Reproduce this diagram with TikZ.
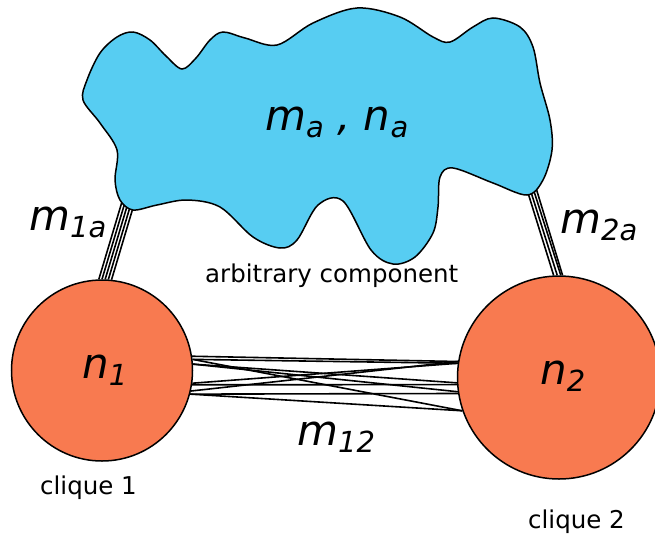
\documentclass[tikz,border=0pt]{standalone}
\usepackage{fontspec}
\setmainfont{DejaVu Sans}
\definecolor{blobblue}{RGB}{87,205,242}
\definecolor{cliquefill}{RGB}{248,122,80}
% lowered subscript for the italic labels
\newcommand{\lowsub}[1]{\raisebox{-7pt}{\fontsize{29}{29}\selectfont #1}}
\begin{document}
\begin{tikzpicture}[x=1pt,y=-1pt,
  clique/.style={circle,draw=black,line width=1.5pt,fill=cliquefill,inner sep=0pt},
  bundle/.style={line width=1.6pt,black},
  biglabel/.style={anchor=base west,inner sep=0pt,font=\fontsize{42}{42}\selectfont\itshape},
  smalllabel/.style={anchor=base west,inner sep=0pt,font=\fontsize{24.5}{24.5}\selectfont}]
\useasboundingbox (0,0) rectangle (655,533);

% the two cliques
\node[clique,minimum size=181pt] (c1) at (102,370.5) {};
\node[clique,minimum size=203pt] (c2) at (559,377.5) {};

% edge ends hidden under the component
\foreach \i in {0,...,4}{\coordinate (pa\i) at ({125.5+3.2*\i},190);}
\foreach \i in {0,...,3}{\coordinate (qa\i) at ({524+3.2*\i},180);}

% edges between clique 1 and the component
\foreach \i/\a in {0/92.5,1/90.5,2/88.5,3/86.5,4/84.5}
  {\draw[bundle] (pa\i) -- (c1.\a);}
% edges between clique 2 and the component
\foreach \i/\a in {0/93.5,1/91.7,2/89.9,3/88.1}
  {\draw[bundle] (qa\i) -- (c2.\a);}
% edges between the two cliques
\foreach \l/\r in {9.3/171.8, 7.3/199.9, 4.1/188.2, -8.0/172.9, -9.9/184.8,
                   -13.2/171.8, -15.1/189.4, -15.1/199.9, 4.1/183.7, 7.3/172.9}
  {\draw[bundle] (c1.\l) -- (c2.\r);}

% the arbitrary component
\draw[line width=1.5pt,fill=blobblue] plot[smooth cycle,tension=0.55] coordinates {
  (83,100) (87,80) (100,53) (117,37) (133,32) (150,40) (166,56) (182,69)
  (196,58) (210,40) (223,32) (245,38) (277,45) (313,23) (357,8) (400,17)
  (433,37) (450,42) (473,27) (493,18) (520,27) (533,47) (540,83) (550,120)
  (552,150) (543,180) (527,195) (493,183) (453,168) (440,177) (438,207)
  (433,233) (415,257) (393,264) (371,250) (343,201) (318,205) (297,240)
  (280,248) (253,237) (220,207) (187,200) (157,205) (133,210) (120,200)
  (115,180) (117,150) (100,123)};

% labels
\node[biglabel] (lma) at (265,130) {m\lowsub{a} , n\lowsub{a}};
\node[biglabel] (ln1) at (82,378) {n\lowsub{1}};
\node[biglabel] (ln2) at (540,384) {n\lowsub{2}};
\node[biglabel] (lm1a) at (29,230) {m\lowsub{1a}};
\node[biglabel] (lm2a) at (560,233) {m\lowsub{2a}};
\node[biglabel] (lm12) at (297,445) {m\lowsub{12}};
\node[smalllabel] (lcomp) at (205,282) {arbitrary component};
\node[smalllabel] (lc1) at (40,494) {clique 1};
\node[smalllabel] (lc2) at (528,528) {clique 2};
\end{tikzpicture}
\end{document}
